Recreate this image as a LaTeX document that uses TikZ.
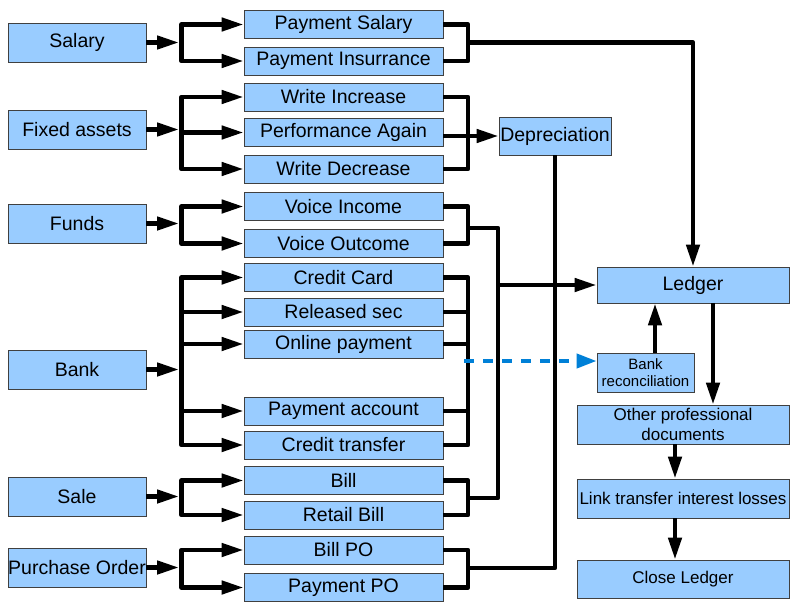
\documentclass[tikz,border=0pt]{standalone}
\usepackage{fontspec}
\setmainfont{Liberation Sans}
\usetikzlibrary{arrows.meta}
\definecolor{boxfill}{HTML}{99CCFF}
\definecolor{boxline}{HTML}{404040}
\definecolor{dashblue}{RGB}{0,128,215}
\begin{document}
\begin{tikzpicture}[x=1pt,y=-1pt,
  box/.style={draw=boxline, fill=boxfill, line width=0.8pt, inner sep=0pt, align=center, font=\fontsize{19.5}{21}\selectfont},
  lbox/.style={box, minimum width=138pt, minimum height=39pt},
  mbox/.style={box, minimum width=199pt, minimum height=28pt},
  conn/.style={line width=4.5pt, line join=round},
  tip/.tip={Triangle[length=22pt,width=13pt]},
  arr/.style={conn, -tip},
  arrtwo/.style={conn, tip-tip},
  dasharr/.style={line width=4pt, draw=dashblue, dash pattern=on 10pt off 9pt, -{Triangle[length=20pt,width=14pt]}}
]
\useasboundingbox (0,0) rectangle (800,610);
\fill[white] (0,0) rectangle (800,610);

% left boxes
\node[lbox] (salary) at (77,42.5) {Salary};
\node[lbox] (fixed) at (77,129.5) {Fixed assets};
\node[lbox] (funds) at (77,223.5) {Funds};
\node[lbox] (bank) at (77,369.5) {Bank};
\node[lbox] (sale) at (77,496.5) {Sale};
\node[lbox] (porder) at (77,567.5) {Purchase Order};

% middle boxes
\node[mbox] (ps) at (343.5,24.5) {Payment Salary};
\node[mbox] (pi) at (343.5,61) {Payment Insurrance};
\node[mbox] (wi) at (343.5,97) {Write Increase};
\node[mbox] (pa) at (343.5,132.5) {Performance Again};
\node[mbox] (wd) at (343.5,169) {Write Decrease};
\node[mbox] (vi) at (343.5,206.5) {Voice Income};
\node[mbox] (vo) at (343.5,243.5) {Voice Outcome};
\node[mbox] (cc) at (343.5,277.5) {Credit Card};
\node[mbox] (rs) at (343.5,312) {Released sec};
\node[mbox] (op) at (343.5,344) {Online payment};
\node[mbox] (pacc) at (343.5,411) {Payment account};
\node[mbox] (ct) at (343.5,445) {Credit transfer};
\node[mbox] (bill) at (343.5,480.5) {Bill};
\node[mbox] (rb) at (343.5,515) {Retail Bill};
\node[mbox] (bpo) at (343.5,550) {Bill PO};
\node[mbox] (ppo) at (343.5,587.5) {Payment PO};

% right boxes
\node[box, minimum width=112pt, minimum height=38pt] (dep) at (555,136) {Depreciation};
\node[box, minimum width=192pt, minimum height=36pt] (ledger) at (693,285) {Ledger};
\node[box, minimum width=97pt, minimum height=39pt, font=\fontsize{15}{17}\selectfont] (brec) at (645.5,372.5) {Bank\\reconciliation};
\node[box, minimum width=212pt, minimum height=39pt, font=\fontsize{17}{19.5}\selectfont] (opd) at (683,424.5) {Other professional\\documents};
\node[box, minimum width=212pt, minimum height=39pt, font=\fontsize{17}{19.5}\selectfont] (link) at (683,498.5) {Link transfer interest losses};
\node[box, minimum width=212pt, minimum height=38pt, font=\fontsize{17}{19.5}\selectfont] (close) at (683,579) {Close Ledger};

% bus coordinates
\coordinate (lend) at (179,0);
\coordinate (lbus) at (181.5,0);
\coordinate (rbus) at (468,0);
\coordinate (col) at (498,0);
\coordinate (sj) at (468,42.5);
\coordinate (fj) at (468,228);
\coordinate (bj) at (468,498);
\coordinate (pj) at (468,568);
\coordinate (dj) at (464,361);

% left fan-outs
\draw[arr] (salary.east) -- (salary.east -| lend);
\draw[arrtwo] (ps.west) -| (lbus |- pi.west) -- (pi.west);

\draw[arr] (fixed.east) -- (fixed.east -| lend);
\draw[arrtwo] (wi.west) -| (lbus |- wd.west) -- (wd.west);
\draw[arr] (pa.west -| lbus) -- (pa.west);

\draw[arr] (funds.east) -- (funds.east -| lend);
\draw[arrtwo] (vi.west) -| (lbus |- vo.west) -- (vo.west);

\draw[arr] (bank.east) -- (bank.east -| lend);
\draw[arrtwo] (cc.west) -| (lbus |- ct.west) -- (ct.west);
\draw[arr] (rs.west -| lbus) -- (rs.west);
\draw[arr] (op.west -| lbus) -- (op.west);
\draw[arr] (pacc.west -| lbus) -- (pacc.west);

\draw[arr] (sale.east) -- (sale.east -| lend);
\draw[arrtwo] (bill.west) -| (lbus |- rb.west) -- (rb.west);

\draw[arr] (porder.east) -- (porder.east -| lend);
\draw[arrtwo] (bpo.west) -| (lbus |- ppo.west) -- (ppo.west);

% right fan-ins
\draw[conn] (ps.east) -| (rbus |- pi.east) -- (pi.east);
\draw[arr] (sj) -| (ledger.north);

\draw[conn] (wi.east) -| (rbus |- wd.east) -- (wd.east);
\draw[arr] (pa.east |- dep.west) -- (dep.west);

\draw[conn] (vi.east) -| (rbus |- vo.east) -- (vo.east);
\draw[conn] (fj) -| (col |- bj) -- (bj);
\draw[arr] (col |- ledger.west) -- (ledger.west);

\draw[conn] (cc.east) -| (rbus |- ct.east) -- (ct.east);
\draw[conn] (rs.east) -- (rs.east -| rbus);
\draw[conn] (op.east) -- (op.east -| rbus);
\draw[conn] (pacc.east) -- (pacc.east -| rbus);
\draw[dasharr] (dj) -- (dj -| brec.west);

\draw[conn] (bill.east) -| (rbus |- rb.east) -- (rb.east);

\draw[conn] (bpo.east) -| (rbus |- ppo.east) -- (ppo.east);
\draw[conn] (pj) -| (dep.south);

% right column
\draw[arr] ([xshift=20pt]ledger.south) -- ([xshift=20pt]ledger.south |- opd.north);
\draw[arr] ([xshift=9.5pt]brec.north) -- ([xshift=9.5pt]brec.north |- ledger.south);
\draw[arr] ([xshift=-8pt]opd.south) -- ([xshift=-8pt]opd.south |- link.north);
\draw[arr] ([xshift=-8pt]link.south) -- ([xshift=-8pt]link.south |- close.north);
\end{tikzpicture}
\end{document}
